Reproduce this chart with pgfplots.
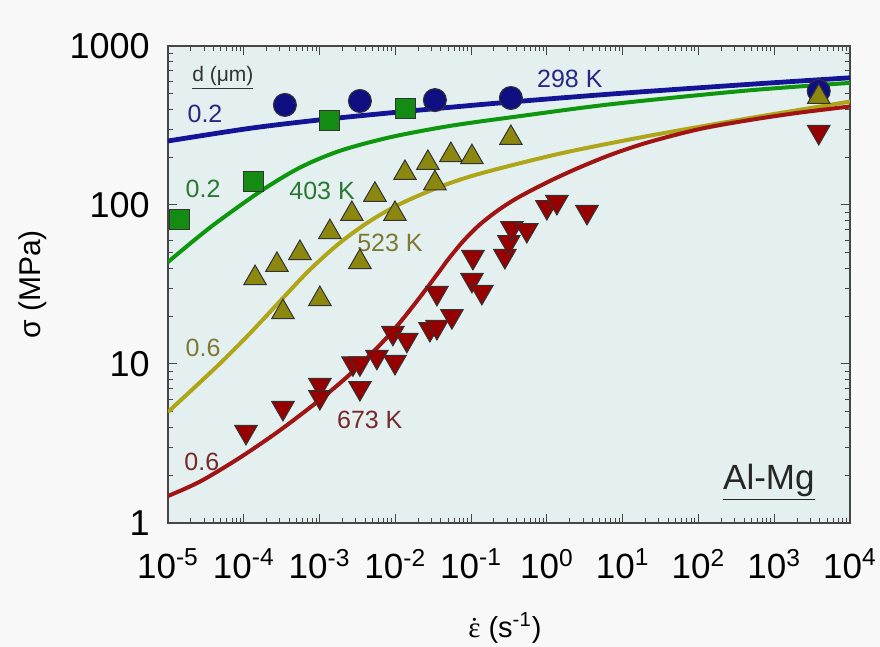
\documentclass[border=0pt]{standalone}
\usepackage{pgfplots}
\pgfplotsset{compat=1.18}
\usepackage{fontspec}
\setmainfont{Liberation Sans}
\newfontfamily\serifeps{Liberation Serif}
\definecolor{plotbg}{RGB}{228,240,240}
\definecolor{outerbg}{RGB}{248,248,248}
\definecolor{framecol}{RGB}{70,70,70}
\definecolor{bline}{RGB}{20,20,150}
\definecolor{gline}{RGB}{15,150,15}
\definecolor{oline}{RGB}{175,165,25}
\definecolor{rline}{RGB}{160,20,20}
\definecolor{bmk}{RGB}{15,15,130}
\definecolor{gmk}{RGB}{20,140,20}
\definecolor{omk}{RGB}{140,135,15}
\definecolor{rmk}{RGB}{150,0,0}
\definecolor{btxt}{RGB}{40,40,130}
\definecolor{gtxt}{RGB}{40,120,50}
\definecolor{otxt}{RGB}{125,120,50}
\definecolor{rtxt}{RGB}{120,40,40}
\pagecolor{outerbg}
\begin{document}
\begin{tikzpicture}
\begin{axis}[
  name=ax,
  xmode=log, ymode=log,
  scale only axis, width=341pt, height=238.5pt,
  xmin=1e-5, xmax=1e4, ymin=1, ymax=1000,
  axis background/.style={fill=plotbg},
  axis line style={draw=framecol, line width=0.75pt},
  tick align=inside,
  major tick length=4.5pt, minor tick length=2.5pt,
  every tick/.style={draw=framecol, line width=0.5pt},
  xtick={1e-5,1e-4,1e-3,1e-2,1e-1,1,10,100,1000,10000},
  xticklabels={10\textsuperscript{-5},10\textsuperscript{-4},10\textsuperscript{-3},10\textsuperscript{-2},10\textsuperscript{-1},10\textsuperscript{0},10\textsuperscript{1},10\textsuperscript{2},10\textsuperscript{3},10\textsuperscript{4}},
  ytick={1,10,100,1000},
  yticklabels={1,10,100,1000},
  xticklabel style={font=\fontsize{17.5}{17.5}\selectfont, inner sep=0pt, anchor=center, yshift=-20.5pt},
  yticklabel style={font=\fontsize{18}{18}\selectfont, inner sep=0pt, anchor=east, xshift=-9pt},
  xlabel={{\serifeps\accent"02D9 ε} (s\textsuperscript{-1})},
  ylabel={σ (MPa)},
  xlabel style={font=\fontsize{14.5}{14.5}\selectfont, at={(axis description cs:0.494,-0.22)}, anchor=center},
  ylabel style={font=\fontsize{15}{15}\selectfont, at={(axis description cs:-0.198,0.5)}, anchor=center},
]
% model curves
\addplot[bline, line width=2.4pt, smooth] coordinates {
(1e-5,252.7) (1.21e-4,303.7) (1.01e-3,343) (1.15e-2,385) (0.240,438.6) (7.43,499.7) (435,572.6) (1e4,631)};
\addplot[gline, line width=2pt, smooth] coordinates {
(1e-5,43.8) (3.58e-5,72.1) (1.64e-4,121.4) (5.51e-4,171.9) (1.86e-3,219.2) (8.49e-3,266.6) (5.25e-2,314.3) (0.441,362.3) (7.43,431.7) (435,524.5) (1e4,586)};
\addplot[oline, line width=2pt, smooth] coordinates {
(1e-5,4.99) (4.43e-5,9.66) (1.21e-4,15.6) (3.29e-4,26.0) (7.46e-4,39.2) (1.86e-3,57.9) (4.62e-3,79.2) (1.15e-2,101.4) (3.87e-2,130.1) (0.131,157.5) (1.485,210.5) (22.9,273) (476,352) (1e4,447)};
\addplot[rline, line width=2pt, smooth] coordinates {
(1e-5,1.478) (2.64e-5,1.821) (8.91e-5,2.578) (3.01e-4,3.834) (1.01e-3,5.955) (2.52e-3,8.614) (6.26e-3,13.17) (1.15e-2,18.24) (2.11e-2,26.28) (3.88e-2,38.68) (4.79e-2,44.44) (7.79e-2,58.95) (0.1306,75.42) (0.2398,94.36) (0.4404,113.1) (1.096,141.6) (2.725,172.7) (7.43,209.4) (22.85,249.7) (104.3,300.6) (476.5,342.4) (2176,381.2) (1e4,416.4)};
% data
\addplot[only marks, mark=*, mark size=5.75pt, mark options={fill=bmk, draw=black!80, line width=0.5pt}] coordinates {
(3.49e-4,426) (3.41e-3,451) (3.33e-2,457) (0.335,471) (3870,521)};
\addplot[only marks, mark=square*, mark size=5pt, mark options={fill=gmk, draw=black!80, line width=0.5pt}] coordinates {
(1.40e-5,81.6) (1.36e-4,140) (1.37e-3,338) (1.38e-2,402)};
\addplot[only marks, mark=triangle*, mark size=6.5pt, mark options={fill=omk, draw=black!80, line width=0.5pt}] coordinates {
(1.41e-4,34.7) (2.74e-4,42.0) (3.29e-4,21.2) (5.51e-4,49.9) (1.01e-3,25.6) (1.37e-3,67.6) (2.67e-3,87.8) (3.41e-3,43.8) (5.38e-3,116) (9.89e-3,87.8) (1.34e-2,159) (2.69e-2,184) (3.33e-2,137) (5.41e-2,206) (0.1026,200) (0.335,264) (3870,478)};
\addplot[only marks, mark=triangle*, mark size=6.5pt, mark options={rotate=180, fill=rmk, draw=black!80, line width=0.5pt}] coordinates {
(1.07e-4,3.74) (3.29e-4,5.29) (1.01e-3,7.38) (1.01e-3,6.20) (2.76e-3,10.1) (3.41e-3,10.1) (3.41e-3,7.06) (5.71e-3,11.1) (9.89e-3,10.3) (9.29e-3,15.7) (1.42e-2,14.2) (2.86e-2,16.6) (3.54e-2,17.1) (3.54e-2,28.0) (5.58e-2,20.0) (0.1026,33.8) (0.1387,28.4) (0.1057,47.1) (0.279,47.8) (0.315,58.5) (0.345,71.6) (0.544,69.6) (1.0,97.1) (1.355,104.5) (3.38,90.4) (3870,288)};
% labels
\node[font=\fontsize{10.5}{10.5}\selectfont, text=black!80] at (axis cs:5.3e-5,631) {\underline{d (μm)}};
\node[font=\fontsize{12.5}{12.5}\selectfont, text=btxt] at (axis cs:3.08e-5,375) {0.2};
\node[font=\fontsize{12.5}{12.5}\selectfont, text=btxt] at (axis cs:2.01,622) {298 K};
\node[font=\fontsize{12.5}{12.5}\selectfont, text=gtxt] at (axis cs:2.9e-5,127) {0.2};
\node[font=\fontsize{12.5}{12.5}\selectfont, text=gtxt] at (axis cs:1.08e-3,123) {403 K};
\node[font=\fontsize{12.5}{12.5}\selectfont, text=otxt] at (axis cs:8.5e-3,58) {523 K};
\node[font=\fontsize{12.5}{12.5}\selectfont, text=otxt] at (axis cs:2.9e-5,12.7) {0.6};
\node[font=\fontsize{12.5}{12.5}\selectfont, text=rtxt] at (axis cs:4.6e-3,4.43) {673 K};
\node[font=\fontsize{12.5}{12.5}\selectfont, text=rtxt] at (axis cs:2.8e-5,2.42) {0.6};
\node[font=\fontsize{17.5}{17.5}\selectfont, text=black!85] at (axis cs:850,1.81) {\underline{Al-Mg}};
\end{axis}
\pgfresetboundingbox
\path ([xshift=-84pt,yshift=-62pt]ax.south west) rectangle ([xshift=15pt,yshift=23pt]ax.north east);
\end{tikzpicture}
\end{document}
